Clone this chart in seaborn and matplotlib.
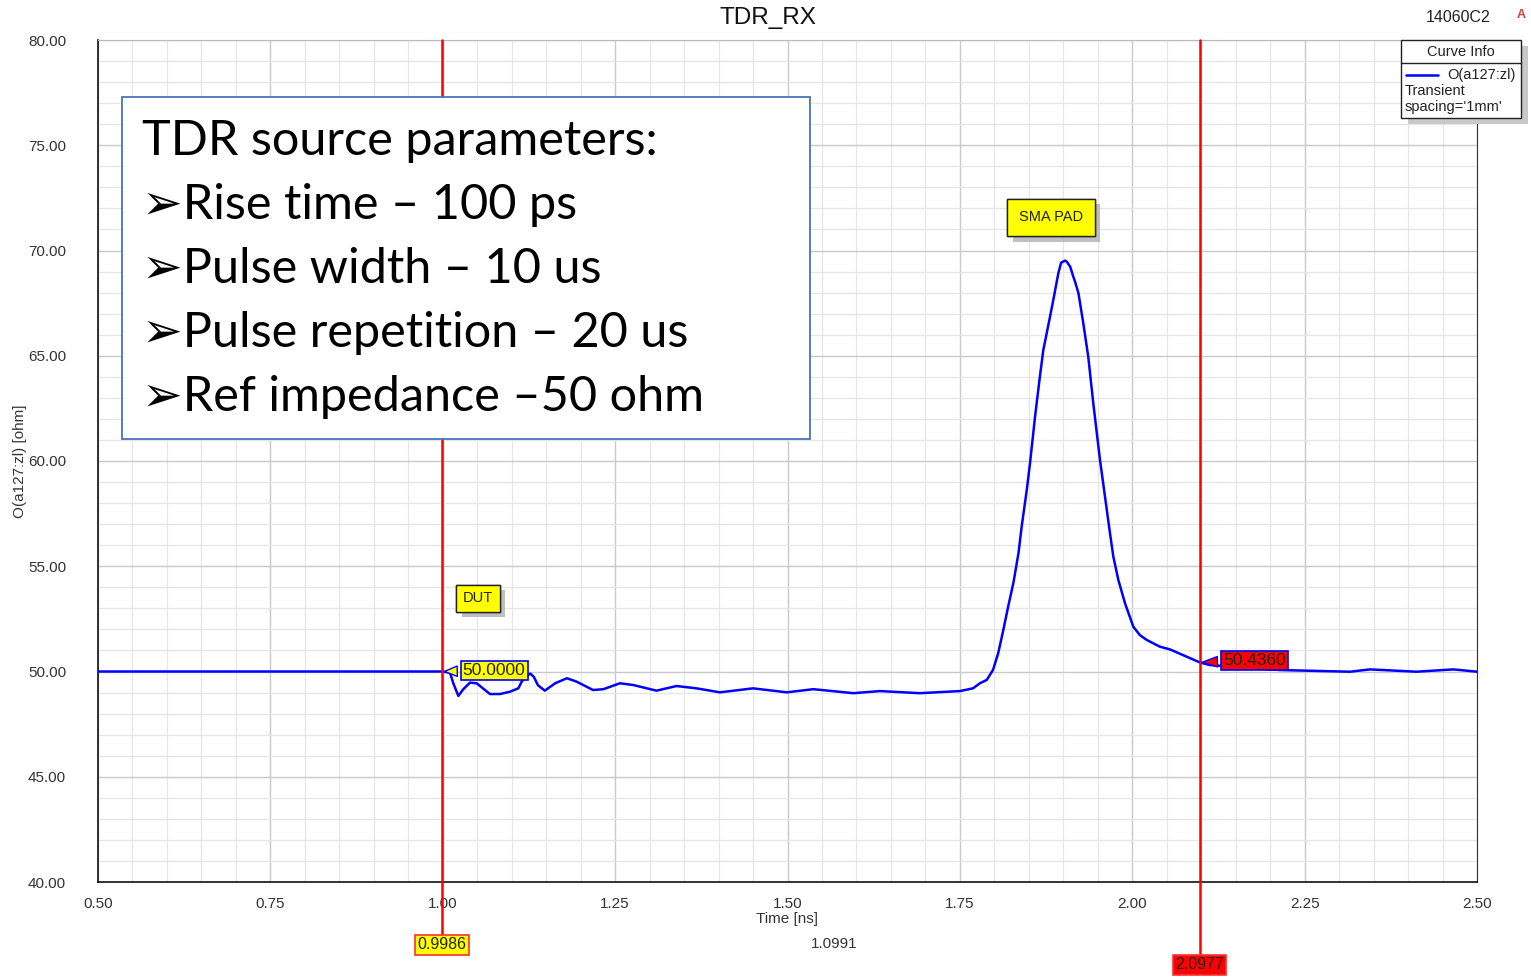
import numpy as np
import pandas as pd
import matplotlib
matplotlib.use("Agg")
import matplotlib.pyplot as plt
import seaborn as sns
from matplotlib.patches import Rectangle
from matplotlib.ticker import MultipleLocator, FormatStrFormatter
import matplotlib.transforms as mtransforms
import matplotlib.patheffects as pe

# ---- data ----
time_ns = [0.50, 0.998, 1.0105, 1.0153, 1.0226, 1.0298, 1.0395, 1.0492, 1.0685, 1.083,
           1.0975, 1.1096, 1.1145, 1.122, 1.127, 1.132, 1.138, 1.148, 1.163, 1.180,
           1.194, 1.218, 1.233, 1.257, 1.276, 1.310, 1.339, 1.368, 1.402, 1.450,
           1.499, 1.5375, 1.5955, 1.634, 1.692, 1.750, 1.769, 1.779, 1.789, 1.798,
           1.8055, 1.813, 1.820, 1.8275, 1.835, 1.8396, 1.847, 1.8517, 1.859, 1.866,
           1.871, 1.8807, 1.8855, 1.8928, 1.8968, 1.9025, 1.905, 1.910, 1.9145, 1.917,
           1.922, 1.929, 1.9362, 1.9435, 1.9532, 1.9605, 1.9677, 1.9726, 1.9798, 1.9895,
           2.0015, 2.011, 2.021, 2.040, 2.0547, 2.0977, 2.112, 2.2143, 2.316, 2.345,
           2.412, 2.466, 2.50]
impedance = [50.00, 50.00, 49.95, 49.44, 48.84, 49.16, 49.47, 49.44, 48.93, 48.93,
             49.04, 49.20, 49.52, 49.80, 49.90, 49.75, 49.35, 49.09, 49.44, 49.68,
             49.52, 49.12, 49.16, 49.44, 49.36, 49.09, 49.31, 49.20, 49.01, 49.20,
             49.01, 49.16, 48.97, 49.07, 48.97, 49.07, 49.20, 49.44, 49.60, 50.07,
             50.86, 51.97, 53.08, 54.19, 55.62, 56.88, 58.62, 59.89, 62.10, 64.00,
             65.27, 66.85, 67.65, 68.92, 69.42, 69.52, 69.47, 69.23, 68.76, 68.52,
             67.97, 66.54, 64.95, 62.74, 60.05, 58.30, 56.57, 55.45, 54.35, 53.24,
             52.13, 51.73, 51.50, 51.18, 51.05, 50.436, 50.31, 50.07, 49.99, 50.10,
             49.99, 50.10, 49.99]

marker_times = [0.9986, 2.0977]
marker_values = [50.0000, 50.4360]
marker_delta = 1.0991

params_lines = ["TDR source parameters:",
                "\u27a2Rise time \u2013 100 ps",
                "\u27a2Pulse width \u2013 10 us",
                "\u27a2Pulse repetition \u2013 20 us",
                "\u27a2Ref impedance \u201350 ohm"]

df = pd.DataFrame({"Time [ns]": time_ns, "O(a127:zl) [ohm]": impedance})

# ---- figure ----
sns.set_style("white")
plt.rcParams["font.family"] = ["Liberation Sans", "DejaVu Sans"]

W, H = 1531, 977
fig = plt.figure(figsize=(W / 100, H / 100), dpi=100)
ax = fig.add_axes([98 / W, 1 - 882 / H, (1477 - 98) / W, (882 - 40) / H])

sns.lineplot(data=df, x="Time [ns]", y="O(a127:zl) [ohm]", ax=ax, color="#0000ff",
             linewidth=1.8, sort=False, estimator=None, zorder=5)

ax.set_xlim(0.5, 2.5)
ax.set_ylim(40, 80)
ax.xaxis.set_major_locator(MultipleLocator(0.25))
ax.xaxis.set_minor_locator(MultipleLocator(0.05))
ax.yaxis.set_major_locator(MultipleLocator(5))
ax.yaxis.set_minor_locator(MultipleLocator(1))
ax.xaxis.set_major_formatter(FormatStrFormatter("%.2f"))
ax.yaxis.set_major_formatter(FormatStrFormatter("%.2f"))
ax.grid(which="major", color="#c9c9c9", linewidth=1.0, zorder=0)
ax.grid(which="minor", color="#e6e6e6", linewidth=0.9, zorder=0)
ax.set_axisbelow(True)

ax.tick_params(axis="y", which="major", direction="out", length=16, width=1, pad=7,
               labelsize=11, colors="#333333", labelcolor="#333333")
ax.tick_params(axis="y", which="minor", direction="out", length=8.5, width=1, colors="#333333")
ax.tick_params(axis="x", which="major", direction="out", length=8.5, width=1, pad=2,
               labelsize=11, colors="#333333", labelcolor="#333333")
ax.tick_params(axis="x", which="minor", direction="out", length=5, width=1, colors="#333333")

for s in ["left", "bottom"]:
    ax.spines[s].set_color("#111111")
    ax.spines[s].set_linewidth(1.2)
ax.spines["right"].set_color("#333333")
ax.spines["top"].set_color("#bbbbbb")

ax.set_xlabel("Time [ns]", fontsize=11, color="#333333", labelpad=1)
ax.set_ylabel("O(a127:zl) [ohm]", fontsize=11, color="#333333", labelpad=1)

# ---- marker lines ----
trans = mtransforms.blended_transform_factory(ax.transData, ax.transAxes)
ax.axvline(marker_times[0], ymin=-0.063, ymax=1, color="red", linewidth=1.8,
           clip_on=False, zorder=6)
ax.axvline(marker_times[1], ymin=-0.087, ymax=1, color="red", linewidth=1.8,
           clip_on=False, zorder=6)
ax.text(marker_times[0], -0.0745, f"{marker_times[0]:.4f}", transform=trans, ha="center",
        va="center", fontsize=11.5, color="#222222",
        bbox=dict(boxstyle="square,pad=0.15", fc="#ffff00", ec="#ff3030", lw=1.2), zorder=7)
ax.text(marker_times[1], -0.0985, f"{marker_times[1]:.4f}", transform=trans, ha="center",
        va="center", fontsize=11.5, color="#222222",
        bbox=dict(boxstyle="square,pad=0.15", fc="#ff0000", ec="#ff3030", lw=1.2), zorder=7)
ax.text(1.567, -0.0735, f"{marker_delta:.4f}", transform=trans, ha="center", va="center",
        fontsize=11, color="#333333")

# value labels
ax.annotate(f"{marker_values[0]:.4f}", xy=(marker_times[0], marker_values[0]),
            xytext=(1.0745, 50.05), ha="center", va="center", fontsize=12.5, color="#222222",
            bbox=dict(boxstyle="square,pad=0.12", fc="#ffff00", ec="#0000ff", lw=1.2),
            arrowprops=dict(arrowstyle="wedge,tail_width=0.6", fc="#ffff00", ec="#0000ff", lw=1),
            zorder=8)
ax.annotate(f"{marker_values[1]:.4f}", xy=(marker_times[1], marker_values[1]),
            xytext=(2.1770, 50.52), ha="center", va="center", fontsize=12.5, color="#222222",
            bbox=dict(boxstyle="square,pad=0.12", fc="#ff0000", ec="#0000ff", lw=1.2),
            arrowprops=dict(arrowstyle="wedge,tail_width=0.6", fc="#ff0000", ec="#0000ff", lw=1),
            zorder=8)

# name tags with shadow
def tag(x, y, s, pad):
    t = ax.text(x, y, s, ha="center", va="center", fontsize=10.5, color="#222222",
                bbox=dict(boxstyle=f"square,pad={pad}", fc="#ffff00", ec="#222222", lw=1),
                zorder=8)
    t.get_bbox_patch().set_path_effects(
        [pe.withSimplePatchShadow(offset=(4, -4), shadow_rgbFace="#b0b0b0", alpha=0.8),
         pe.Normal()])

tag(1.051, 53.48, "DUT", 0.45)
tag(1.882, 71.57, "SMA PAD", 0.8)

# ---- titles ----
fig.text(768 / W, 1 - 18 / H, "TDR_RX", ha="center", va="center", fontsize=17.5, color="#111111")
fig.text(1458 / W, 1 - 18 / H, "14060C2", ha="center", va="center", fontsize=11.5, color="#222222")
fig.text(1521 / W, 1 - 15 / H, "A", ha="center", va="center", fontsize=9, color="#d04040",
         fontweight="bold")

# ---- curve info legend ----
lx0, lx1, ly0, ly1 = 1401, 1521, 40, 118
fig.patches.append(Rectangle(((lx0 + 7) / W, 1 - (ly1 + 6) / H), (lx1 - lx0) / W, (ly1 - ly0) / H,
                             transform=fig.transFigure, fc="#c8c8c8", ec="none", zorder=9))
fig.patches.append(Rectangle((lx0 / W, 1 - ly1 / H), (lx1 - lx0) / W, (ly1 - ly0) / H,
                             transform=fig.transFigure, fc="white", ec="#222222", lw=1, zorder=10))
fig.lines.append(plt.Line2D([lx0 / W, lx1 / W], [1 - 63 / H, 1 - 63 / H],
                            transform=fig.transFigure, color="#222222", lw=1, zorder=11))
fig.text(1461 / W, 1 - 52 / H, "Curve Info", ha="center", va="center", fontsize=10.5,
         color="#222222", zorder=12)
fig.lines.append(plt.Line2D([1406 / W, 1438 / W], [1 - 75 / H, 1 - 75 / H],
                            transform=fig.transFigure, color="#0000ff", lw=1.8, zorder=11))
fig.text(1516 / W, 1 - 75 / H, "O(a127:zl)", ha="right", va="center", fontsize=10.5,
         color="#222222", zorder=12)
fig.text(1405 / W, 1 - 91 / H, "Transient", ha="left", va="center", fontsize=10.5,
         color="#222222", zorder=12)
fig.text(1405 / W, 1 - 107 / H, "spacing='1mm'", ha="left", va="center", fontsize=10.5,
         color="#222222", zorder=12)

# ---- parameters text box ----
bx0, bx1, by0, by1 = 122, 810, 97, 439
fig.patches.append(Rectangle((bx0 / W, 1 - by1 / H), (bx1 - bx0) / W, (by1 - by0) / H,
                             transform=fig.transFigure, fc="white", ec="#4a73b8", lw=1.3, zorder=20))
line_y = [141, 205, 269, 333, 397]
for i, (s, yy) in enumerate(zip(params_lines, line_y)):
    fig.text(142 / W, 1 - yy / H, s, ha="left", va="center", fontsize=35, color="black",
             family=["Lato", "DejaVu Sans"], zorder=21)

fig.savefig("out.png", dpi=100, facecolor="white")
